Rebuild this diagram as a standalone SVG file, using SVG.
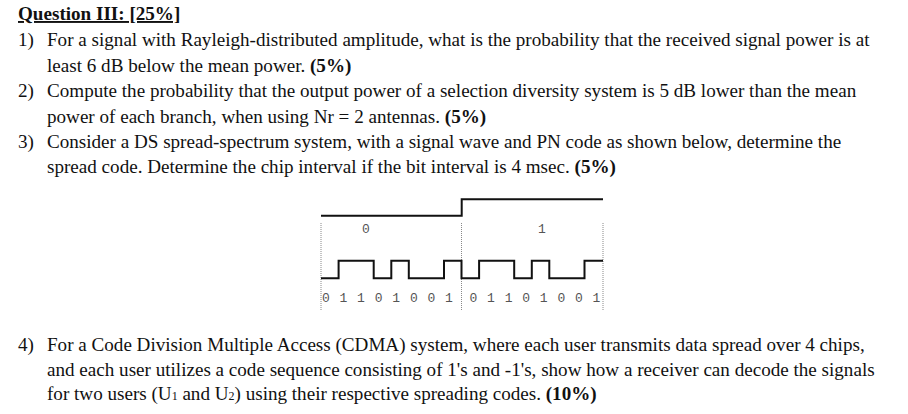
<svg xmlns="http://www.w3.org/2000/svg" width="908" height="414" viewBox="0 0 908 414">
<style>
text{font-family:"Liberation Serif","Times New Roman",serif;font-size:19.1px;fill:#111}
.b{font-weight:bold}
.m{font-family:"Liberation Mono","Courier New",monospace;font-size:13px;fill:#555;text-anchor:middle}
.w{fill:none;stroke:#111;stroke-width:2}
.d{stroke:#888;stroke-width:1;stroke-dasharray:1,1}
</style>
<rect width="908" height="414" fill="#fff"/>
<g id="text">
<text x="18" y="20" class="b" text-decoration="underline">Question III: [25%]</text>
<text x="18" y="46">1)</text><text x="47" y="46">For a signal with Rayleigh-distributed amplitude, what is the probability that the received signal power is at</text>
<text x="47" y="72">least 6 dB below the mean power. <tspan class="b">(5%)</tspan></text>
<text x="18" y="97">2)</text><text x="47" y="97">Compute the probability that the output power of a selection diversity system is 5 dB lower than the mean</text>
<text x="47" y="123">power of each branch, when using Nr = 2 antennas. <tspan class="b">(5%)</tspan></text>
<text x="18" y="148">3)</text><text x="47" y="148">Consider a DS spread-spectrum system, with a signal wave and PN code as shown below, determine the</text>
<text x="47" y="173">spread code. Determine the chip interval if the bit interval is 4 msec. <tspan class="b">(5%)</tspan></text>
<text x="18" y="351">4)</text><text x="47" y="351">For a Code Division Multiple Access (CDMA) system, where each user transmits data spread over 4 chips,</text>
<text x="47" y="376">and each user utilizes a code sequence consisting of 1's and -1's, show how a receiver can decode the signals</text>
<text x="47" y="400">for two users (U<tspan font-size="12">1</tspan> and U<tspan font-size="12">2</tspan>) using their respective spreading codes. <tspan class="b">(10%)</tspan></text>
</g>
<g id="diagram">
<path class="w" d="M321,215.7H461.7V199.3H603"/>
<line class="d" x1="321" y1="223" x2="321" y2="310"/>
<line class="d" x1="461.5" y1="223" x2="461.5" y2="310"/>
<line class="d" x1="603" y1="223" x2="603" y2="310"/>
<text class="m" x="366" y="233">0</text>
<text class="m" x="542" y="233">1</text>
<path class="w" d="M321,278.3H338.6V260.7H373.7V278.3H391.3V260.7H408.8V278.3H444V260.7H461.5V278.3H479.1V260.7H514.2V278.3H531.8V260.7H549.3V278.3H584.5V260.7H603"/>
<g>
<text class="m" x="326" y="302">0</text><text class="m" x="343.5" y="302">1</text><text class="m" x="361" y="302">1</text><text class="m" x="378.6" y="302">0</text><text class="m" x="396.2" y="302">1</text><text class="m" x="413.8" y="302">0</text><text class="m" x="431.3" y="302">0</text><text class="m" x="448.9" y="302">1</text>
<text class="m" x="473.5" y="302">0</text><text class="m" x="491" y="302">1</text><text class="m" x="508.6" y="302">1</text><text class="m" x="526.2" y="302">0</text><text class="m" x="543.7" y="302">1</text><text class="m" x="561.3" y="302">0</text><text class="m" x="578.9" y="302">0</text><text class="m" x="596.4" y="302">1</text>
</g>
</g>
</svg>
